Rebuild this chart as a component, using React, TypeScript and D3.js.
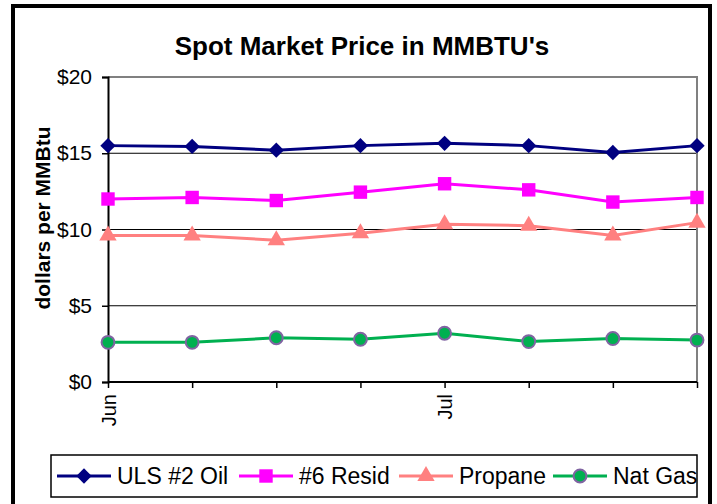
import React, { useEffect, useRef } from 'react';
import * as d3 from 'd3';

const monthLabels = ['Jun', '', '', '', 'Jul', '', '', ''];
const ulsOil = [15.5, 15.45, 15.2, 15.5, 15.65, 15.5, 15.05, 15.5];
const resid6 = [12.0, 12.1, 11.9, 12.45, 13.0, 12.6, 11.8, 12.1];
const propane = [9.6, 9.6, 9.3, 9.75, 10.35, 10.25, 9.6, 10.45];
const natGas = [2.6, 2.6, 2.9, 2.8, 3.2, 2.65, 2.85, 2.75];
const yTicks = [0, 5, 10, 15, 20];

const seriesList = [
  { name: 'ULS #2 Oil', values: ulsOil, color: '#000080', marker: 'diamond' },
  { name: '#6 Resid', values: resid6, color: '#FF00FF', marker: 'square' },
  { name: 'Propane', values: propane, color: '#FF8080', marker: 'triangle' },
  { name: 'Nat Gas', values: natGas, color: '#00B050', marker: 'circle' },
];

const FONT = 'Liberation Sans, Arial, sans-serif';

const App: React.FC = () => {
  const ref = useRef<SVGSVGElement | null>(null);

  useEffect(() => {
    if (!ref.current) return;
    const svg = d3.select(ref.current);
    svg.selectAll('*').remove();

    const W = 717, H = 504;
    const plot = { left: 108, right: 697, top: 77, bottom: 382 };

    svg.append('rect').attr('width', W).attr('height', H).attr('fill', '#fff');
    // outer frame
    svg.append('rect')
      .attr('x', 13).attr('y', 6).attr('width', 697).attr('height', 520)
      .attr('fill', 'none').attr('stroke', '#000').attr('stroke-width', 4);

    svg.append('text')
      .attr('x', 362).attr('y', 55)
      .attr('text-anchor', 'middle')
      .attr('font-family', FONT).attr('font-weight', 'bold').attr('font-size', 26)
      .text("Spot Market Price in MMBTU's");

    const x = d3.scalePoint<number>()
      .domain(d3.range(monthLabels.length))
      .range([plot.left, plot.right]);
    const y = d3.scaleLinear().domain([0, 20]).range([plot.bottom, plot.top]);

    // grid
    svg.append('g').selectAll('line')
      .data(yTicks.filter(t => t > 0 && t < 20))
      .enter().append('line')
      .attr('x1', plot.left).attr('x2', plot.right)
      .attr('y1', d => y(d)).attr('y2', d => y(d))
      .attr('stroke', '#000').attr('stroke-width', 1);

    // plot border top/right
    svg.append('path')
      .attr('d', `M${plot.left},${plot.top}H${plot.right}V${plot.bottom}`)
      .attr('fill', 'none').attr('stroke', '#808080').attr('stroke-width', 2);

    // y axis
    const yAxis = svg.append('g')
      .attr('transform', `translate(${plot.left},0)`)
      .call(d3.axisLeft(y).tickValues(yTicks).tickSize(6).tickPadding(10).tickFormat(d => `$${d}`));
    yAxis.select('.domain').attr('stroke', '#000').attr('stroke-width', 2);
    yAxis.selectAll('.tick line').attr('stroke', '#000').attr('stroke-width', 1.5);
    yAxis.selectAll('.tick text')
      .attr('font-family', FONT).attr('font-size', 21).attr('fill', '#000');

    // x axis
    const xAxis = svg.append('g')
      .attr('transform', `translate(0,${plot.bottom})`)
      .call(d3.axisBottom(x).tickSize(6).tickSizeOuter(0).tickFormat(i => monthLabels[i as number]));
    xAxis.select('.domain').attr('stroke', '#000').attr('stroke-width', 2)
      .attr('d', `M${plot.left},0H${plot.right}`);
    xAxis.selectAll('.tick line').attr('stroke', '#000').attr('stroke-width', 1.5);
    xAxis.selectAll('.tick text')
      .attr('font-family', FONT).attr('font-size', 20).attr('fill', '#000')
      .attr('transform', 'rotate(-90)')
      .attr('text-anchor', 'end')
      .attr('x', -12).attr('y', 0).attr('dy', '0.35em');

    // y title
    svg.append('text')
      .attr('transform', 'translate(50,218) rotate(-90)')
      .attr('text-anchor', 'middle')
      .attr('font-family', FONT).attr('font-weight', 'bold').attr('font-size', 21)
      .text('dollars per MMBtu');

    const line = d3.line<number>().x((_, i) => x(i)!).y(d => y(d));

    const symbolFor = (m: string) => {
      if (m === 'diamond') return d3.symbol().type(d3.symbolDiamond2).size(150)();
      if (m === 'square') return d3.symbol().type(d3.symbolSquare).size(180)();
      if (m === 'triangle') return d3.symbol().type(d3.symbolTriangle).size(130)();
      return d3.symbol().type(d3.symbolCircle).size(130)();
    };

    const drawMarker = (g: any, s: typeof seriesList[0], cx: number, cy: number) => {
      g.append('path')
        .attr('d', symbolFor(s.marker))
        .attr('transform', `translate(${cx},${cy})`)
        .attr('fill', s.color)
        .attr('stroke', s.marker === 'circle' ? '#8064A2' : 'none')
        .attr('stroke-width', 2);
    };

    seriesList.forEach(s => {
      const g = svg.append('g');
      g.append('path')
        .attr('d', line(s.values))
        .attr('fill', 'none').attr('stroke', s.color).attr('stroke-width', 3);
      s.values.forEach((v, i) => drawMarker(g, s, x(i)!, y(v)));
    });

    // legend
    const lg = svg.append('g');
    lg.append('rect')
      .attr('x', 51).attr('y', 455).attr('width', 646).attr('height', 42)
      .attr('fill', '#fff').attr('stroke', '#000').attr('stroke-width', 1.5);
    const legendX = [57, 239, 399, 553];
    seriesList.forEach((s, i) => {
      const lx = legendX[i];
      const ly = 476;
      lg.append('line')
        .attr('x1', lx).attr('x2', lx + 54).attr('y1', ly).attr('y2', ly)
        .attr('stroke', s.color).attr('stroke-width', 3);
      drawMarker(lg, s, lx + 27, ly);
      lg.append('text')
        .attr('x', lx + 60).attr('y', ly + 8)
        .attr('font-family', FONT).attr('font-size', 23)
        .text(s.name);
    });
  }, []);

  return (
    <div style={{ position: 'absolute', left: 0, top: 0 }}>
      <svg ref={ref} width={717} height={504} style={{ display: 'block' }} />
    </div>
  );
};

export default App;
